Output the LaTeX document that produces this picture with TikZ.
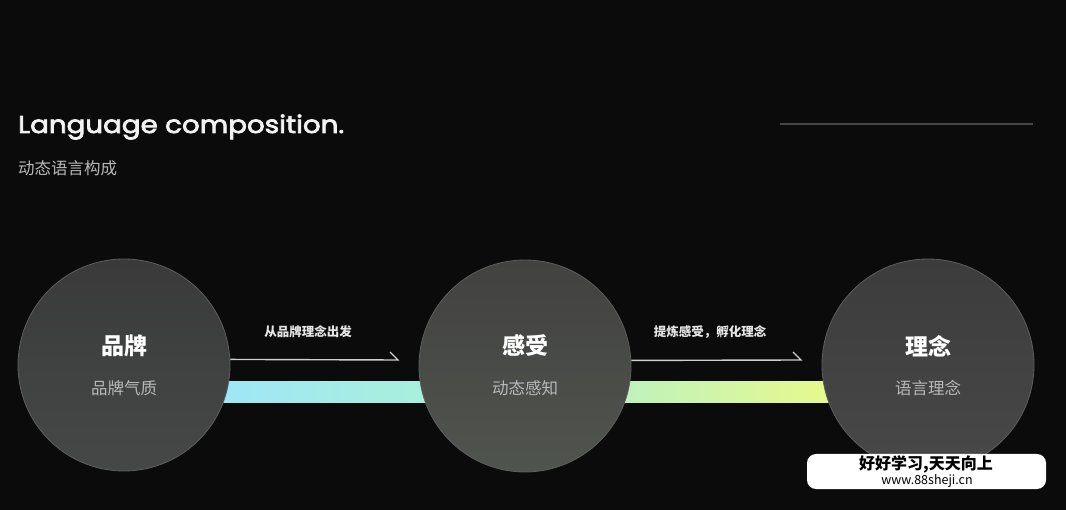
\documentclass[tikz,border=0pt]{standalone}
\usepackage{fontspec}
\usepackage{graphicx}
\newfontfamily\cjk{Noto Sans CJK SC}
\newfontfamily\titlefont{Poppins}[FakeStretch=1.14, FakeBold=3]
\usetikzlibrary{positioning}
\definecolor{bgc}{HTML}{0B0B0B}
\definecolor{rimc}{HTML}{5E5E5E}
\definecolor{subc}{HTML}{B8B8B8}
\definecolor{arrc}{HTML}{CFCFCF}
\tikzset{
  disc/.style={circle, inner sep=0pt, minimum size=212pt, draw=rimc, line width=0.8pt},
  headtxt/.style={font=\cjk\bfseries\fontsize{23pt}{23pt}\selectfont, text=white, inner sep=0pt},
  subtxt/.style={font=\cjk\fontsize{16.5pt}{16.5pt}\selectfont, text=subc, inner sep=0pt},
  arrtxt/.style={font=\cjk\bfseries\fontsize{12.5pt}{12.5pt}\selectfont, text=white!90!black, inner sep=0pt},
  bar/.style={rectangle, inner sep=0pt, minimum height=21pt},
  flowline/.style={draw=arrc, line width=1.4pt, line join=miter, line cap=butt},
}
\begin{document}
\begin{tikzpicture}[x=1pt,y=-1pt]
\fill[bgc] (0,0) rectangle (1066,510);
\useasboundingbox (0,0) rectangle (1066,510);

% title block
\node[anchor=base west, inner sep=0pt, text=white!95!black] (title) at (18,133)
  {\resizebox{326pt}{!}{\titlefont Language composition.}};
\node[anchor=west, inner sep=0pt, text=subc, font=\cjk\fontsize{16.5pt}{16.5pt}\selectfont] (subtitle) at (18,168) {动态语言构成};
\coordinate (rl1) at (780,124);
\coordinate (rl2) at (1033,124);
\draw[draw=white!28!black, line width=1.2pt] (rl1) -- (rl2);

% gradient bars
\node[bar, left color={rgb,255:red,158;green,230;blue,248}, right color={rgb,255:red,170;green,240;blue,218}, minimum width=225pt] (b1) at (327.5,392.5) {};
\node[bar, left color={rgb,255:red,190;green,242;blue,190}, right color={rgb,255:red,232;green,249;blue,140}, minimum width=215pt] (b2) at (727.5,392.5) {};

% circles
\node[disc, top color={rgb,255:red,58;green,58;blue,58}, bottom color={rgb,255:red,70;green,72;blue,72}] (c1) at (124,365) {};
\node[disc, top color={rgb,255:red,66;green,66;blue,65}, bottom color={rgb,255:red,80;green,84;blue,78}] (c2) at (525,366) {};
\node[disc, top color={rgb,255:red,60;green,60;blue,60}, bottom color={rgb,255:red,72;green,72;blue,72}] (c3) at (928,365) {};

\node[headtxt] (h1) at (124,346) {品牌};
\node[subtxt] (s1) at (124,388) {品牌气质};
\node[headtxt] (h2) at (525,346) {感受};
\node[subtxt] (s2) at (525,388) {动态感知};
\node[headtxt] (h3) at (928,346) {理念};
\node[subtxt] (s3) at (928,388) {语言理念};

% connectors
\coordinate (e1) at (398,360);
\coordinate (e2) at (801,360);
\draw[flowline] (c1.3) -- (e1) -- ++(-8,-8);
\draw[flowline] (c2.3) -- (e2) -- ++(-8,-8);
\node[arrtxt] (l1) at (308,332) {从品牌理念出发};
\node[arrtxt] (l2) at (710,332) {提炼感受，孵化理念};

% watermark
\node[rectangle, rounded corners=9pt, fill=white, minimum width=239pt, minimum height=35pt, inner sep=0pt] (wm) at (926.5,471.5) {};
\node[inner sep=0pt, font=\cjk\bfseries\fontsize{16pt}{16pt}\selectfont, text=black] (wm1) at (926,464.5) {好好学习,天天向上};
\node[inner sep=0pt, font=\cjk\fontsize{12.5pt}{12.5pt}\selectfont, text=black] (wm2) at (927,481) {www.88sheji.cn};
\end{tikzpicture}
\end{document}
